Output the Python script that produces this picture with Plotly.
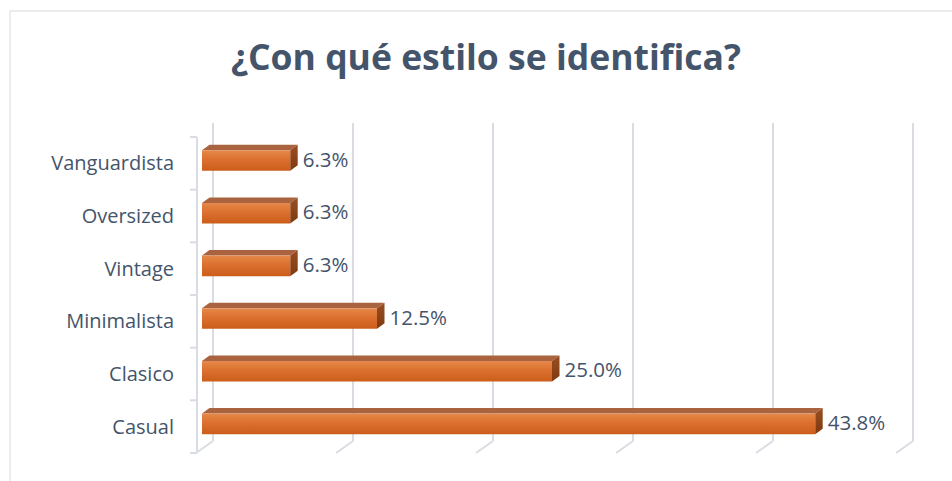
import plotly.graph_objects as go

# Survey results: preferred clothing style (share of respondents, %)
categories = ["Casual", "Clasico", "Minimalista", "Vintage", "Oversized", "Vanguardista"]
values = [43.8, 25.0, 12.5, 6.3, 6.3, 6.3]
labels = ["43.8%", "25.0%", "12.5%", "6.3%", "6.3%", "6.3%"]
grid_values = [0, 10, 20, 30, 40, 50]

TEXT = "#44546A"
GRID = "#D9DCE3"
FONT = "'Open Sans', Lato, sans-serif"

# Figure geometry (pixels) used to convert 3D depth offsets into axis units
W, H = 952, 481
L, R, T, B = 185, 17, 115, 11
X_RANGE = (-17 / 14, (W - R - 202) / 14)  # 14 px per percentage point
PX_X = (W - L - R) / (X_RANGE[1] - X_RANGE[0])
Y_RANGE = (-0.5 - 17 / 52.67, 5.5 + 22 / 52.67)
PX_Y = (H - T - B) / (Y_RANGE[1] - Y_RANGE[0])


def ux(px):
    return px / PX_X


def uy(px):
    return px / PX_Y


DEPTH_X, DEPTH_Y = ux(7.5), uy(5.5)   # bar depth projection
BAR_HALF = uy(10.3)                   # half height of the bar front face
BAR_SHIFT = uy(2.8)                   # bars sit slightly above category centre

fig = go.Figure()

# Bars drawn as 3D prisms: front face (gradient), top face, right face
for i, (cat, v) in enumerate(zip(categories, values)):
    yc = i + BAR_SHIFT
    y0, y1 = yc - BAR_HALF, yc + BAR_HALF
    # top face
    fig.add_trace(go.Scatter(
        x=[0, v, v + DEPTH_X, DEPTH_X, 0],
        y=[y1, y1, y1 + DEPTH_Y, y1 + DEPTH_Y, y1],
        fill="toself", fillcolor="#A9633F", mode="lines",
        line=dict(width=0), hoverinfo="skip", showlegend=False))
    # right face
    fig.add_trace(go.Scatter(
        x=[v, v + DEPTH_X, v + DEPTH_X, v, v],
        y=[y1, y1 + DEPTH_Y, y0 + DEPTH_Y, y0, y1],
        fill="toself", mode="lines",
        fillgradient=dict(type="vertical",
                          colorscale=[[0, "#7E3A10"], [1, "#9A4E22"]]),
        line=dict(width=0), hoverinfo="skip", showlegend=False))
    # front face
    fig.add_trace(go.Scatter(
        x=[0, v, v, 0, 0],
        y=[y0, y0, y1, y1, y0],
        fill="toself", mode="lines",
        fillgradient=dict(type="vertical",
                          colorscale=[[0, "#CC5D1A"], [0.55, "#DC7030"],
                                      [0.85, "#E2803F"], [1, "#E58A52"]]),
        line=dict(width=0), name=cat, hovertemplate="%{fullData.name}<extra></extra>",
        showlegend=False))

# Data labels
fig.add_trace(go.Scatter(
    x=[v + DEPTH_X + ux(5) for v in values],
    y=[i + BAR_SHIFT - uy(1) for i in range(len(values))],
    text=labels, mode="text", textposition="middle right",
    textfont=dict(family=FONT, size=20.5, color=TEXT),
    hoverinfo="skip", showlegend=False, cliponaxis=False))

shapes = []
back_dx, front_dx = ux(11), ux(-6)
back_top, back_bottom = 5.5 + uy(14), -0.5 + uy(12)
for g in grid_values:
    shapes.append(dict(type="line", xref="x", yref="y", layer="below",
                       x0=g + back_dx, x1=g + back_dx, y0=back_bottom, y1=back_top,
                       line=dict(color=GRID, width=2)))
    shapes.append(dict(type="line", xref="x", yref="y", layer="below",
                       x0=g + back_dx, x1=g + front_dx, y0=back_bottom, y1=-0.5,
                       line=dict(color=GRID, width=2)))

# Category axis line with tick marks at the band boundaries
axis_x = ux(-5)
shapes.append(dict(type="line", xref="x", yref="y", layer="below",
                   x0=axis_x, x1=axis_x, y0=-0.5, y1=5.5,
                   line=dict(color=GRID, width=2)))
for k in range(len(categories) + 1):
    shapes.append(dict(type="line", xref="x", yref="y", layer="below",
                       x0=axis_x - ux(7), x1=axis_x, y0=k - 0.5, y1=k - 0.5,
                       line=dict(color=GRID, width=2)))

# Chart area border
bx = (10 - L) / (W - L - R)
by = (H - B - 11) / (H - T - B)
shapes.append(dict(type="path", xref="paper", yref="paper",
                   path=f"M {bx},-0.2 L {bx},{by} L 1.2,{by}",
                   line=dict(color="#D9D9D9", width=1)))

fig.update_layout(
    width=W, height=H,
    margin=dict(l=L, r=R, t=T, b=B),
    paper_bgcolor="white", plot_bgcolor="white",
    title=dict(text="<b>¿Con qué estilo se identifica?</b>",
               font=dict(family=FONT, size=35.5, color=TEXT),
               xref="container", x=486 / W, xanchor="center",
               yref="container", y=1 - 58 / H, yanchor="middle"),
    xaxis=dict(range=list(X_RANGE), showgrid=False, zeroline=False,
               showticklabels=False, showline=False, fixedrange=True),
    yaxis=dict(range=list(Y_RANGE), showgrid=False, zeroline=False, showline=False,
               tickmode="array", tickvals=list(range(len(categories))),
               ticktext=categories, ticks="", ticklabelstandoff=10,
               tickfont=dict(family=FONT, size=20, color=TEXT), fixedrange=True),
    shapes=shapes,
    showlegend=False,
)

fig.write_html("out.html")
